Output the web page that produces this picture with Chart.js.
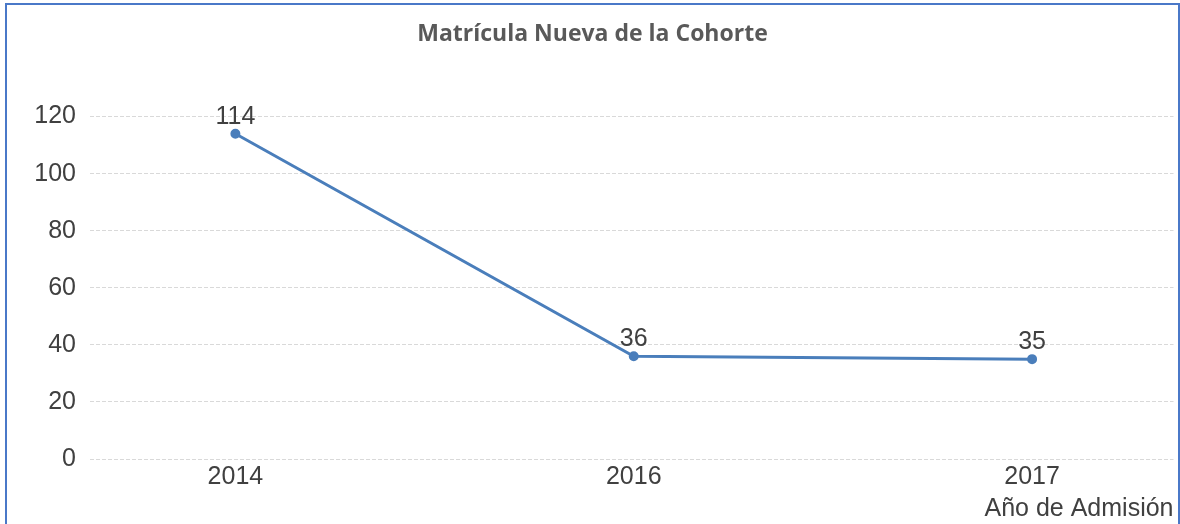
<!DOCTYPE html>
<html>
<head>
<meta charset="utf-8">
<script src="https://cdn.jsdelivr.net/npm/chart.js@4"></script>
<style>
  html, body { margin: 0; padding: 0; background: #fff; overflow: hidden; }
  #frame { position: absolute; left: 5px; top: 3px; width: 1175px; height: 540px; border: 2px solid #4a78c8; box-sizing: border-box; }
  #wrap { position: absolute; left: 0; top: 0; width: 1180px; height: 524px; }
</style>
</head>
<body>
<div id="frame"></div>
<div id="wrap"><canvas id="cohortChart" width="1180" height="524"></canvas></div>
<script>
const years = ['2014', '2016', '2017'];
const matricula = [114, 36, 35];
const yTicks = [0, 20, 40, 60, 80, 100, 120];

// etiquetas de valor encima de cada punto
const valueLabels = {
    id: 'valueLabels',
    afterDatasetsDraw(chart) {
        const ctx = chart.ctx;
        const meta = chart.getDatasetMeta(0);
        ctx.save();
        ctx.font = '25px "Liberation Sans", Arial, sans-serif';
        ctx.fillStyle = '#404040';
        ctx.textAlign = 'center';
        ctx.textBaseline = 'middle';
        meta.data.forEach((pt, i) => {
            ctx.fillText(String(matricula[i]), pt.x, pt.y - 17);
        });
        ctx.restore();
    }
};

const ctx = document.getElementById('cohortChart').getContext('2d');
const cohortChart = new Chart(ctx, {
    type: 'line',
    data: {
        datasets: [{
            data: matricula.map((v, i) => ({ x: i, y: v })),
            borderColor: '#4a7ebb',
            backgroundColor: '#4a7ebb',
            borderWidth: 3,
            pointRadius: 3.5,
            pointHoverRadius: 3.5,
            tension: 0,
            fill: false
        }]
    },
    options: {
        responsive: false,
        animation: false,
        layout: { padding: { left: 8, right: 3, top: 0, bottom: 0 } },
        plugins: {
            legend: { display: false },
            tooltip: { enabled: false },
            title: {
                display: true,
                text: 'Matrícula Nueva de la Cohorte',
                color: '#595959',
                font: { family: '"Open Sans", sans-serif', size: 23, weight: 'bold' },
                padding: { top: 21, bottom: 68 }
            }
        },
        scales: {
            x: {
                type: 'linear',
                min: -0.365,
                max: 2.355,
                afterBuildTicks(scale) {
                    scale.ticks = years.map((y, i) => ({ value: i }));
                },
                afterFit(scale) { scale.height = 65; },
                ticks: {
                    callback: (v) => years[v],
                    color: '#404040',
                    font: { family: '"Liberation Sans", Arial, sans-serif', size: 25 },
                    padding: 3,
                    maxRotation: 0,
                    autoSkip: false
                },
                grid: { display: false, drawTicks: false },
                border: { display: false },
                title: {
                    display: true,
                    text: 'Año de Admisión',
                    align: 'end',
                    color: '#404040',
                    font: { family: '"Liberation Sans", Arial, sans-serif', size: 25 },
                    padding: { top: 2, bottom: 0 }
                }
            },
            y: {
                min: 0,
                max: 120,
                afterBuildTicks(scale) {
                    scale.ticks = yTicks.map(v => ({ value: v }));
                },
                afterFit(scale) { scale.width = 82; },
                ticks: {
                    color: '#404040',
                    font: { family: '"Liberation Sans", Arial, sans-serif', size: 25 },
                    padding: 14
                },
                grid: {
                    color: '#d9d9d9',
                    lineWidth: 1,
                    drawTicks: false
                },
                border: { display: false, dash: [4, 2] }
            }
        }
    },
    plugins: [valueLabels]
});
</script>
</body>
</html>
